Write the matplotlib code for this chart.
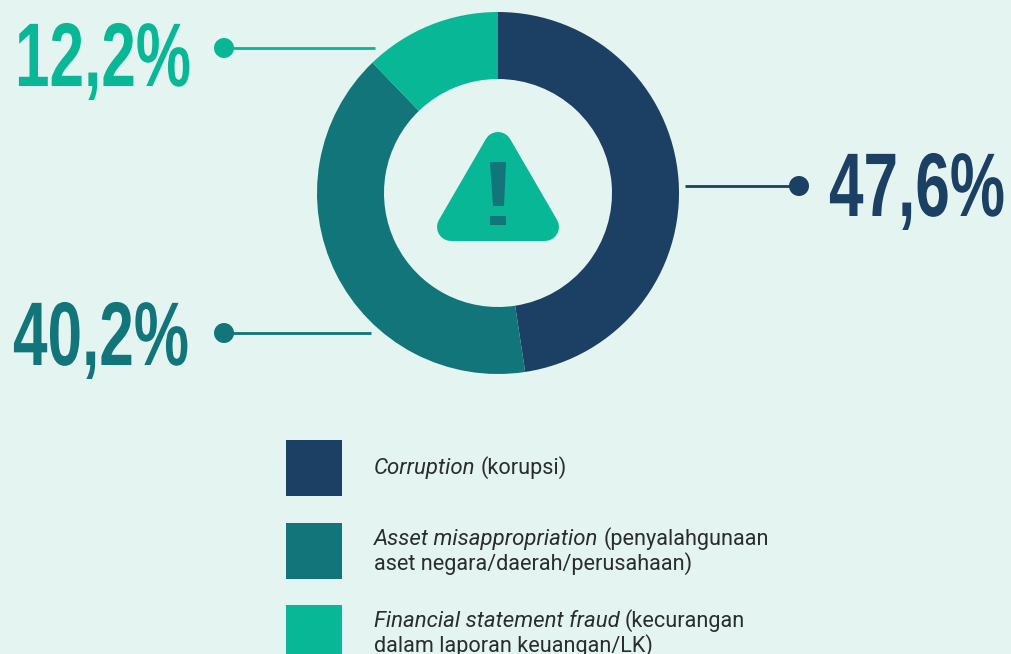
import matplotlib
matplotlib.use("Agg")
import matplotlib.pyplot as plt
from matplotlib.patches import Polygon, Rectangle, Circle
from matplotlib.patheffects import AbstractPathEffect
from matplotlib.transforms import Affine2D

# data
shares = [47.6, 40.2, 12.2]
share_labels = ["47,6%", "40,2%", "12,2%"]
italic_names = ["Corruption", "Asset misappropriation", "Financial statement fraud"]
first_line_rest = ["(korupsi)", "(penyalahgunaan", "(kecurangan"]
second_lines = ["", "aset negara/daerah/perusahaan)", "dalam laporan keuangan/LK)"]

NAVY = "#1C3F64"
TEAL = "#11757A"
GREEN = "#08B795"
BG = "#E4F4F0"
TXT = "#2A2D30"
colors = [NAVY, TEAL, GREEN]

W, H = 1011, 654


class Stretch(AbstractPathEffect):
    # makes glyphs taller, gives the look of a condensed font (none installed)
    def __init__(self, sy):
        super().__init__()
        self.sy = sy

    def draw_path(self, renderer, gc, tpath, affine, rgbFace=None):
        renderer.draw_path(gc, tpath, Affine2D().scale(1, self.sy) + affine, rgbFace)


def py(y):
    # picture y (from top) to axes y
    return H - y


fig = plt.figure(figsize=(W / 100, H / 100), dpi=100, facecolor=BG)
ax = fig.add_axes([0, 0, 1, 1])
ax.pie(shares, colors=colors, startangle=90, counterclock=False,
       center=(498, py(193)), radius=181,
       wedgeprops=dict(width=181 - 114, linewidth=0))
ax.set_xlim(0, W)
ax.set_ylim(0, H)
ax.set_aspect("equal")
ax.axis("off")

# warning icon
ax.add_patch(Polygon([(451, py(227)), (545, py(227)), (498, py(146))], closed=True,
                     facecolor=GREEN, edgecolor=GREEN, linewidth=14 * 2 * 0.72,
                     joinstyle="round"))
ax.add_patch(Polygon([(490, py(162)), (506, py(162)), (504, py(206)), (493, py(206))],
                     closed=True, facecolor=TEAL, linewidth=0))
ax.add_patch(Rectangle((490, py(225)), 16, 9, facecolor=TEAL, linewidth=0))

# leaders: line from the ring, dot at the outer end
leaders = [(685, 799, 186), (371, 224, 333), (375, 224, 48)]
for (x0, x1, y), c in zip(leaders, colors):
    ax.plot([x0, x1], [py(y), py(y)], color=c, linewidth=2.0, solid_capstyle="butt")
    ax.add_patch(Circle((x1, py(y)), 10, facecolor=c, linewidth=0))

# big percentages
label_pos = [(829, 216), (13, 365), (15, 86)]
for s, (x, y), c in zip(share_labels, label_pos, colors):
    ax.text(x, py(y), s, color=c, fontsize=44.7, fontweight="bold",
            family="Liberation Sans", ha="left", va="baseline",
            path_effects=[Stretch(1.455)])

# legend
box_tops = [440, 523, 605]
line1_y = [474, 545, 627]
FS = 15.6
FS_IT = 16
fig.canvas.draw()
rend = fig.canvas.get_renderer()
for i in range(3):
    ax.add_patch(Rectangle((286, py(box_tops[i] + 56)), 56, 56, facecolor=colors[i],
                           linewidth=0, clip_on=True))
    t = ax.text(374, py(line1_y[i]), italic_names[i], fontsize=FS_IT, family="Roboto",
                style="italic", color=TXT, va="baseline")
    x_end = ax.transData.inverted().transform(t.get_window_extent(rend))[1][0]
    ax.text(x_end + 5, py(line1_y[i]), first_line_rest[i], fontsize=FS, family="Roboto",
            color=TXT, va="baseline")
    if second_lines[i]:
        ax.text(374, py(line1_y[i] + 25), second_lines[i], fontsize=FS, family="Roboto",
                color=TXT, va="baseline")

fig.savefig("out.png", dpi=100, facecolor=BG)
